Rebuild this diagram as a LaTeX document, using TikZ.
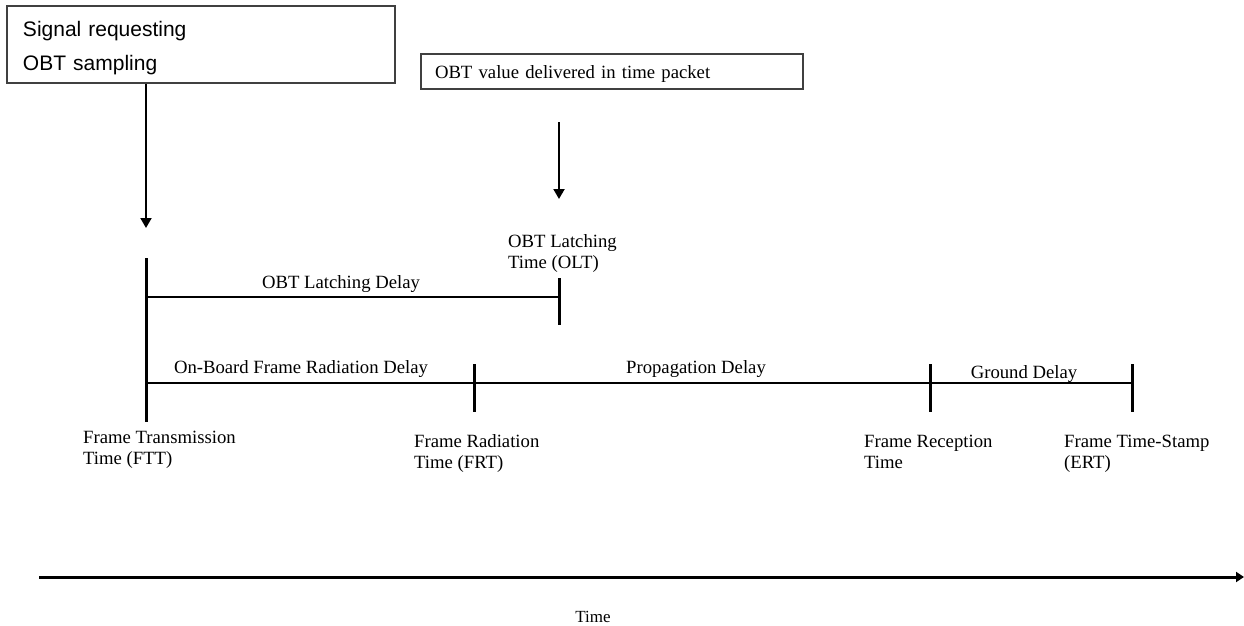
\documentclass[tikz,border=0pt]{standalone}
\usepackage{fontspec}
\setmainfont{Liberation Serif}
\newfontfamily\boxfont{Liberation Sans}
\usetikzlibrary{arrows.meta, positioning}

\begin{document}
\begin{tikzpicture}[
    x=1pt, y=-1pt,
    txtbox/.style={rectangle, draw=black!75, line width=1.3pt, inner ysep=0pt, align=left},
    lbl/.style={inner sep=0pt, font=\fontsize{18.7}{21}\selectfont, align=left},
    span/.style={line width=1.4pt},
    tickmark/.style={line width=3pt},
    arr/.style={line width=2pt, -{Triangle[length=10pt, width=11pt]}},
    >=Latex
]
\useasboundingbox (0,0) rectangle (1244,626);

% top boxes
\node[txtbox, minimum width=388pt, minimum height=77pt, text width=356pt, inner xsep=16pt,
      font=\boxfont\fontsize{21}{34}\selectfont] (sigbox) at (201,44.5) {\rule{0pt}{22pt}Signal requesting\\OBT sampling};
\node[txtbox, minimum width=382pt, minimum height=35pt, text width=354pt, inner xsep=14pt,
      font=\fontsize{18.7}{21}\selectfont] (pktbox) at (612,71.5) {\rule{0pt}{17pt}OBT value delivered in time packet};

% tick marks on the time line
\coordinate (ftt top) at (146,258);  \coordinate (ftt bot) at (146,422);
\coordinate (olt top) at (559,278);  \coordinate (olt bot) at (559,325);
\coordinate (frt top) at (474,364);  \coordinate (frt bot) at (474,412);
\coordinate (frc top) at (930,364);  \coordinate (frc bot) at (930,412);
\coordinate (ert top) at (1132,364); \coordinate (ert bot) at (1132,412);
\draw[tickmark] (ftt top) -- (ftt bot);
\draw[tickmark] (olt top) -- (olt bot);
\draw[tickmark] (frt top) -- (frt bot);
\draw[tickmark] (frc top) -- (frc bot);
\draw[tickmark] (ert top) -- (ert bot);

% delay spans
\coordinate (lat) at (0,297);
\coordinate (rad) at (0,383);
\draw[span] (ftt top |- lat) -- (olt top |- lat);
\draw[span] (ftt top |- rad) -- (frt top |- rad) -- (frc top |- rad) -- (ert top |- rad);
\node[lbl, anchor=base] (latdelay) at (341,288) {OBT Latching Delay};
\node[lbl, anchor=base] (obdelay) at (301,373) {On-Board Frame Radiation Delay};
\node[lbl, anchor=base] (propdelay) at (696,373) {Propagation Delay};
\node[lbl, anchor=base] (gnddelay) at (1024,378) {Ground Delay};

% arrows from the boxes
\coordinate (sig tip) at (146,228);
\coordinate (pkt start) at (559,122);
\coordinate (pkt tip) at (559,199);
\draw[arr] (sigbox.south -| ftt top) -- (sig tip);
\draw[arr] (pkt start) -- (pkt tip);

% event labels (base = last line)
\node[lbl, anchor=base west] (olt) at (508,268) {OBT Latching\\Time (OLT)};
\node[lbl, anchor=base west] (ftt) at (83,464) {Frame Transmission\\Time (FTT)};
\node[lbl, anchor=base west] (frt) at (414,468) {Frame Radiation\\Time (FRT)};
\node[lbl, anchor=base west] (frc) at (864,468) {Frame Reception\\Time};
\node[lbl, anchor=base west] (ert) at (1064,468) {Frame Time-Stamp\\(ERT)};

% time axis
\coordinate (t0) at (39,577);
\coordinate (t1) at (1244,577);
\draw[line width=3pt, -{Triangle[length=8pt, width=10pt]}] (t0) -- (t1);
\node[lbl, font=\fontsize{17}{20}\selectfont] (time) at (593,617) {Time};
\end{tikzpicture}
\end{document}
